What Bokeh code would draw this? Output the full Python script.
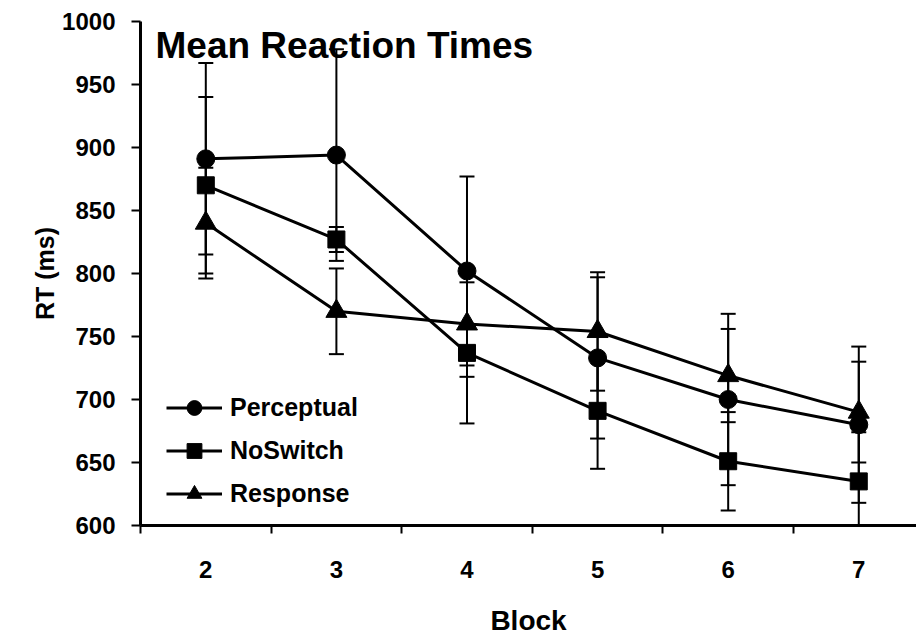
from bokeh.plotting import figure
from bokeh.models import (ColumnDataSource, Whisker, TeeHead, Range1d, FixedTicker,
                          Legend, LegendItem, Label)
from bokeh.embed import file_html
from bokeh.resources import INLINE

blocks = [2, 3, 4, 5, 6, 7]
perceptual = [891, 894, 802, 733, 700, 680]
noswitch = [870, 827, 737, 691, 651, 635]
response = [840, 770, 760, 754, 719, 690]
perceptual_err = [76, 84, 75, 64, 68, 62]
noswitch_err = [70, 10, 56, 46, 39, 39]
response_err = [44, 34, 42, 47, 37, 40]
y_ticks = [600, 650, 700, 750, 800, 850, 900, 950, 1000]
block_bounds = [1.5, 2.5, 3.5, 4.5, 5.5, 6.5, 7.5]

FONT = "Liberation Sans"

p = figure(width=916, height=638, output_backend="svg", toolbar_location=None,
           x_range=Range1d(1.5, 7.442), y_range=Range1d(600, 1000),
           min_border_left=140, min_border_right=0, min_border_top=21,
           min_border_bottom=112)
p.outline_line_color = None
p.grid.visible = False
p.background_fill_color = "white"
p.border_fill_color = "white"

series = [
    ("Perceptual", perceptual, perceptual_err, "circle", 18),
    ("NoSwitch", noswitch, noswitch_err, "square", 17),
    ("Response", response, response_err, "triangle", 21),
]

items = []
for name, vals, errs, marker, size in series:
    src = ColumnDataSource(dict(
        x=blocks, y=vals,
        upper=[v + e for v, e in zip(vals, errs)],
        lower=[v - e for v, e in zip(vals, errs)],
    ))
    w = Whisker(source=src, base="x", upper="upper", lower="lower",
                line_color="black", line_width=2, level="underlay",
                upper_head=TeeHead(size=15, line_width=2, line_color="black"),
                lower_head=TeeHead(size=15, line_width=2, line_color="black"))
    p.add_layout(w)
    lr = p.line("x", "y", source=src, line_color="black", line_width=3)
    sr = p.scatter("x", "y", source=src, marker=marker, size=size,
                   fill_color="black", line_color="black")
    items.append(LegendItem(label=name, renderers=[lr, sr]))

legend = Legend(items=items, location=(26, 13), padding=0, margin=0,
                border_line_color=None, background_fill_alpha=0,
                glyph_width=56, glyph_height=37, label_height=37, spacing=6,
                label_standoff=8, label_text_font=FONT, label_text_color="black",
                label_text_font_style="bold", label_text_font_size="25px")
p.add_layout(legend, "center")

# Y axis
ya = p.yaxis[0]
ya.ticker = FixedTicker(ticks=y_ticks)
ya.axis_line_width = 3
ya.axis_line_color = "black"
ya.major_tick_line_width = 2
ya.major_tick_line_color = "black"
ya.major_tick_out = 9
ya.major_tick_in = 0
ya.minor_tick_line_color = None
ya.major_label_standoff = 16
ya.major_label_text_font = FONT
ya.major_label_text_color = "black"
ya.major_label_text_font_style = "bold"
ya.major_label_text_font_size = "24px"
ya.axis_label = "RT (ms)"
ya.axis_label_text_font = FONT
ya.axis_label_text_color = "black"
ya.axis_label_text_font_style = "bold"
ya.axis_label_text_font_size = "25px"
ya.axis_label_standoff = 0

# X axis
xa = p.xaxis[0]
xa.ticker = FixedTicker(ticks=blocks, minor_ticks=block_bounds)
xa.axis_line_width = 3
xa.axis_line_color = "black"
xa.major_tick_out = 0
xa.major_tick_in = 0
xa.major_tick_line_color = None
xa.minor_tick_out = 8
xa.minor_tick_in = 0
xa.minor_tick_line_width = 2
xa.minor_tick_line_color = "black"
xa.major_label_standoff = 27
xa.major_label_text_font = FONT
xa.major_label_text_color = "black"
xa.major_label_text_font_style = "bold"
xa.major_label_text_font_size = "24px"
xa.axis_label = "Block"
xa.axis_label_text_font = FONT
xa.axis_label_text_color = "black"
xa.axis_label_text_font_style = "bold"
xa.axis_label_text_font_size = "28px"
xa.axis_label_standoff = 24

title = Label(x=15, y=480, x_units="screen", y_units="screen",
              text="Mean Reaction Times", text_font=FONT,
              text_font_style="bold", text_font_size="37px",
              text_baseline="alphabetic", text_color="black")
p.add_layout(title)

open("out.html", "w").write(file_html(p, INLINE))
